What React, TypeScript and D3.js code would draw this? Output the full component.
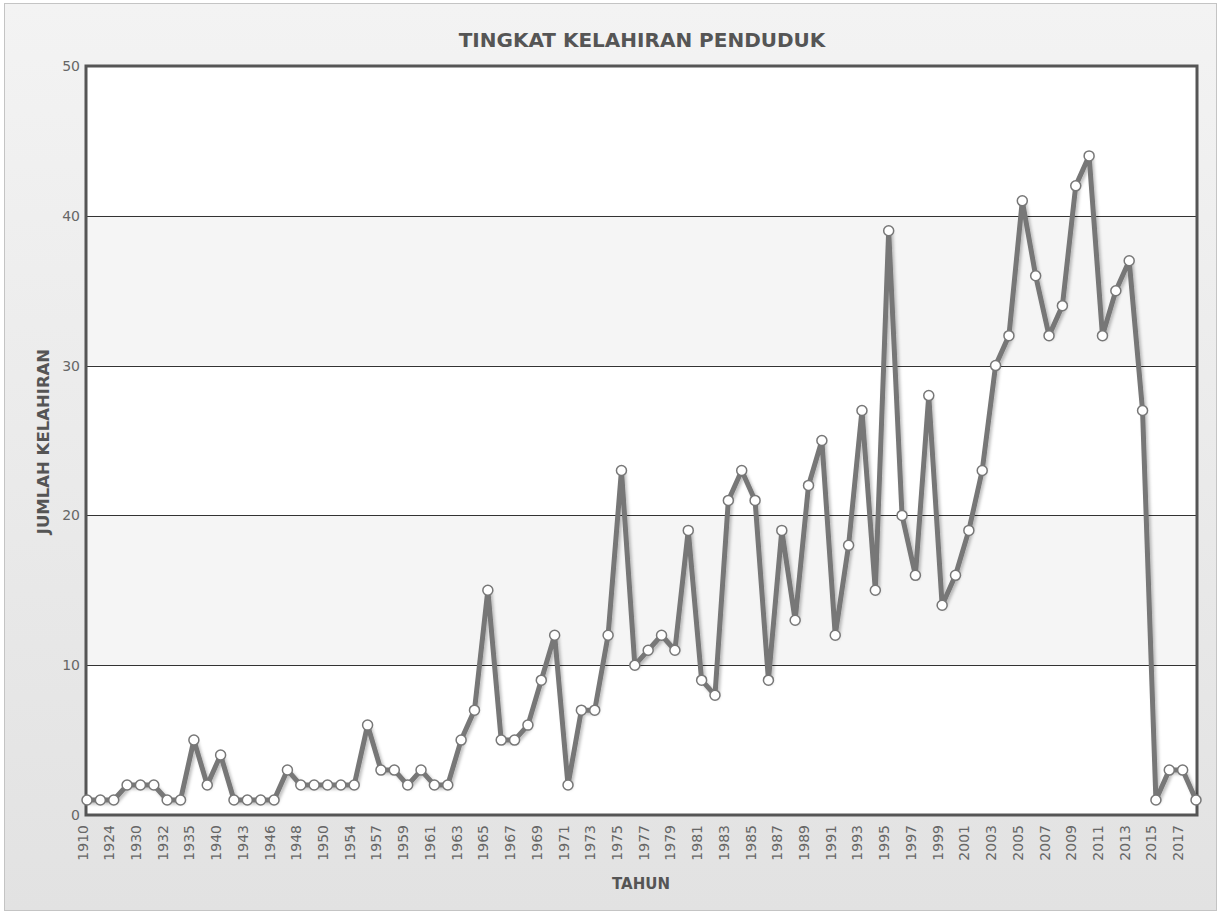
import React from "react";
import * as d3 from "d3";

const categories: string[] = [
  "1910", "1920", "1924", "1927", "1930", "1931", "1932", "1934", "1935", "1938",
  "1940", "1941", "1943", "1945", "1946", "1947", "1948", "1949", "1950", "1952",
  "1954", "1956", "1957", "1958", "1959", "1960", "1961", "1962", "1963", "1964",
  "1965", "1966", "1967", "1968", "1969", "1970", "1971", "1972", "1973", "1974",
  "1975", "1976", "1977", "1978", "1979", "1980", "1981", "1982", "1983", "1984",
  "1985", "1986", "1987", "1988", "1989", "1990", "1991", "1992", "1993", "1994",
  "1995", "1996", "1997", "1998", "1999", "2000", "2001", "2002", "2003", "2004",
  "2005", "2006", "2007", "2008", "2009", "2010", "2011", "2012", "2013", "2014",
  "2015", "2016", "2017", "2018",
];

const births: number[] = [
  1, 1, 1, 2, 2, 2, 1, 1, 5, 2,
  4, 1, 1, 1, 1, 3, 2, 2, 2, 2,
  2, 6, 3, 3, 2, 3, 2, 2, 5, 7,
  15, 5, 5, 6, 9, 12, 2, 7, 7, 12,
  23, 10, 11, 12, 11, 19, 9, 8, 21, 23,
  21, 9, 19, 13, 22, 25, 12, 18, 27, 15,
  39, 20, 16, 28, 14, 16, 19, 23, 30, 32,
  41, 36, 32, 34, 42, 44, 32, 35, 37, 27,
  1, 3, 3, 1,
];

const yTicks: number[] = [0, 10, 20, 30, 40, 50];
const bands: [number, number][] = [[10, 20], [30, 40]];

const title = "TINGKAT KELAHIRAN PENDUDUK";
const xTitle = "TAHUN";
const yTitle = "JUMLAH KELAHIRAN";

const W = 1220;
const H = 913;
const FONT = "'DejaVu Sans', Verdana, sans-serif";

export default function App() {
  const left = 86, right = 1197, top = 66, bottom = 815;
  const x = d3.scalePoint<string>().domain(categories).range([87, 1196]);
  const y = d3.scaleLinear().domain([0, 50]).range([bottom, top]);
  const line = d3
    .line<number>()
    .x((_, i) => x(categories[i]) as number)
    .y((d) => y(d));

  return (
    <svg
      width={W}
      height={H}
      style={{ position: "absolute", left: 0, top: 0, fontFamily: FONT }}
    >
      <defs>
        <linearGradient id="bg" x1="0" y1="0" x2="0" y2="1">
          <stop offset="0" stopColor="#f3f3f3" />
          <stop offset="1" stopColor="#e2e2e2" />
        </linearGradient>
        <filter id="shadow" x="-5%" y="-5%" width="110%" height="110%">
          <feDropShadow dx="2" dy="2" stdDeviation="1.5" floodColor="#000" floodOpacity="0.25" />
        </filter>
      </defs>
      <rect x={4.5} y={3.5} width={1212} height={907} fill="url(#bg)" stroke="#c4c4c4" strokeWidth={1} />

      <text x={642} y={47} textAnchor="middle" fontWeight="bold" fontSize={20} fill="#555">
        {title}
      </text>

      <rect x={left} y={top} width={right - left} height={bottom - top} fill="#fff" />
      {bands.map(([a, b], i) => (
        <rect key={i} x={left} y={y(b)} width={right - left} height={y(a) - y(b)} fill="#f5f5f5" />
      ))}
      {yTicks.filter((t) => t > 0 && t < 50).map((t) => (
        <line key={t} x1={left} x2={right} y1={Math.round(y(t)) + 0.5} y2={Math.round(y(t)) + 0.5} stroke="#333" strokeWidth={1} />
      ))}
      <rect x={left} y={top} width={right - left} height={bottom - top} fill="none" stroke="#555" strokeWidth={3} />

      {yTicks.map((t) => (
        <text key={t} x={80} y={y(t) + 5} textAnchor="end" fontSize={14} fill="#666">
          {t}
        </text>
      ))}

      {categories.map((c, i) =>
        i % 2 === 0 ? (
          <text
            key={c}
            transform={`translate(${(x(c) as number) + 0.5},825) rotate(-90)`}
            textAnchor="end"
            fontSize={14}
            fill="#666"
          >
            {c}
          </text>
        ) : null
      )}

      <path d={line(births) || ""} fill="none" stroke="#777" strokeWidth={5} strokeLinejoin="round" filter="url(#shadow)" />
      {births.map((v, i) => (
        <circle key={i} cx={x(categories[i]) as number} cy={y(v)} r={5} fill="#fff" stroke="#777" strokeWidth={1.5} />
      ))}

      <text x={641} y={889} textAnchor="middle" fontWeight="bold" fontSize={15} fill="#555">
        {xTitle}
      </text>
      <text
        transform={`translate(49,${(top + bottom) / 2 + 1}) rotate(-90)`}
        textAnchor="middle"
        fontWeight="bold"
        fontSize={16.5}
        fill="#555"
      >
        {yTitle}
      </text>
    </svg>
  );
}
